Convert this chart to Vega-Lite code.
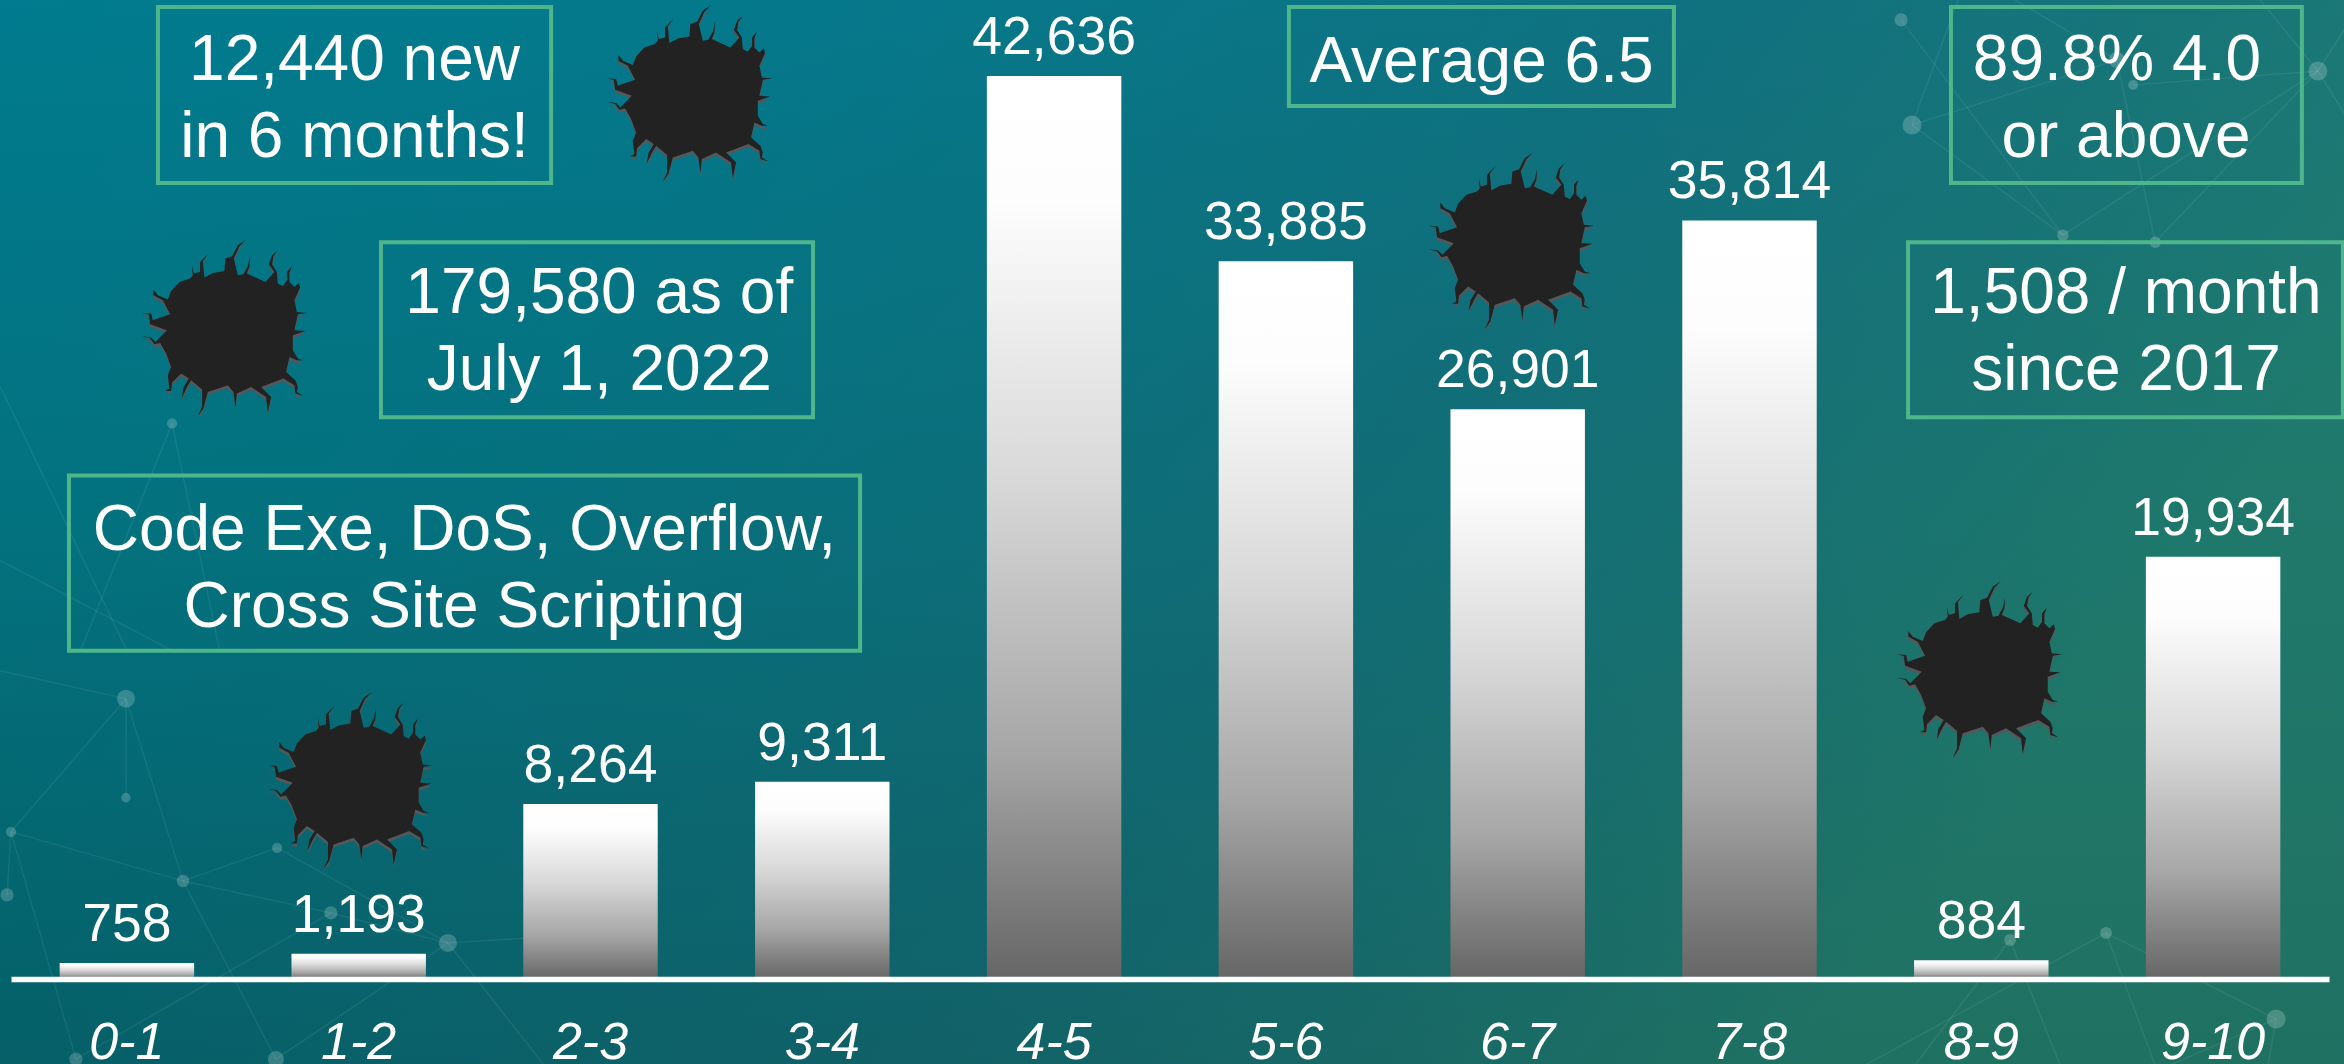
{
"$schema":"https://vega.github.io/schema/vega-lite/v6.json",
"width":2344,"height":979,"padding":{"left":0,"top":0,"right":0,"bottom":85},"autosize":{"type":"none"},
"background":"#006a75",
"config":{"view":{"stroke":null},"text":{"font":"Liberation Sans"},"axis":{"labelFont":"Liberation Sans"}},
"datasets":{
"bars":[{"score":"0-1","count":758},{"score":"1-2","count":1193},{"score":"2-3","count":8264},{"score":"3-4","count":9311},{"score":"4-5","count":42636},{"score":"5-6","count":33885},{"score":"6-7","count":26901},{"score":"7-8","count":35814},{"score":"8-9","count":884},{"score":"9-10","count":19934}],
"boxes":[
{"x0":0.634,"x1":2.33,"y0":45897,"y1":37578},
{"x0":1.596,"x1":3.46,"y0":34789,"y1":26517},
{"x0":0.25,"x1":3.663,"y0":23776,"y1":15504},
{"x0":5.513,"x1":7.174,"y0":45897,"y1":41218},
{"x0":8.369,"x1":9.883,"y0":45897,"y1":37578},
{"x0":8.184,"x1":10.06,"y0":34789,"y1":26517}],
"notes":[
{"text":"12,440 new\nin 6 months!","xc":1.482,"base":42447},
{"text":"179,580 as of\nJuly 1, 2022","xc":2.538,"base":31433},
{"text":"Code Exe, DoS, Overflow,\nCross Site Scripting","xc":1.956,"base":20278},
{"text":"Average 6.5","xc":6.344,"base":42352},
{"text":"89.8% 4.0","xc":9.085,"base":42447},
{"text":"or above","xc":9.124,"base":38807},
{"text":"1,508 / month\nsince 2017","xc":9.124,"base":31433}],
"holes":[{"s":2.934,"c":41700},{"s":0.928,"c":30630},{"s":1.471,"c":9265},{"s":6.48,"c":34742},{"s":8.499,"c":14511}],
"net":[
{"a":0.496,"b":13235,"a2":0,"b2":6948},{"a":0.496,"b":13235,"a2":0.742,"b2":4632},{"a":0.496,"b":13235,"a2":0.496,"b2":8556},{"a":0.496,"b":13235,"a2":-0.047,"b2":14559},
{"a":0,"b":6948,"a2":0.742,"b2":4632},{"a":0,"b":6948,"a2":0.28,"b2":-3781},{"a":0,"b":6948,"a2":-0.017,"b2":3971},{"a":0.742,"b":4632,"a2":1.38,"b2":3120},{"a":1.38,"b":3120,"a2":1.885,"b2":1702},{"a":0.742,"b":4632,"a2":1.143,"b2":-3781},{"a":1.885,"b":1702,"a2":2.714,"b2":2269},{"a":1.885,"b":1702,"a2":1.143,"b2":-3781},{"a":1.148,"b":6192,"a2":1.885,"b2":1702},{"a":1.148,"b":6192,"a2":0.742,"b2":4632},{"a":1.885,"b":1702,"a2":2.3,"b2":-4065},{"a":0.28,"b":-3781,"a2":1.38,"b2":3120},
{"a":0.695,"b":26234,"a2":0.3,"b2":15504},{"a":0.695,"b":26234,"a2":0.9,"b2":15504},{"a":-0.047,"b":19758,"a2":0.695,"b2":15504},{"a":-0.047,"b":28000,"a2":0.5,"b2":15504},
{"a":9.952,"b":42872,"a2":9.155,"b2":42210},{"a":8.201,"b":40320,"a2":9.085,"b2":43392},{"a":8.201,"b":40320,"a2":8.852,"b2":35120},{"a":8.852,"b":35120,"a2":9.952,"b2":42872},{"a":9.25,"b":34789,"a2":9.952,"b2":42872},{"a":9.085,"b":43392,"a2":9.25,"b2":34789},{"a":8.154,"b":45283,"a2":8.852,"b2":35120},{"a":9.952,"b":42872,"a2":10.065,"b2":44810},{"a":9.952,"b":42872,"a2":10.065,"b2":40887},{"a":9.952,"b":42872,"a2":9.703,"b2":46228},{"a":9.085,"b":43392,"a2":8.645,"b2":46228},{"a":8.201,"b":40320,"a2":8.4,"b2":46228},
{"a":8.624,"b":1843,"a2":8.214,"b2":-4065},{"a":8.624,"b":1843,"a2":8.84,"b2":-4065},{"a":9.038,"b":2174,"a2":8.0,"b2":-4065},{"a":9.038,"b":2174,"a2":9.25,"b2":-4065},{"a":9.038,"b":2174,"a2":9.772,"b2":-1891},{"a":9.772,"b":-1891,"a2":9.737,"b2":-4065},{"a":9.772,"b":-1891,"a2":9.314,"b2":-4065}],
"nodes":[{"a":0.496,"b":13235,"r":380},{"a":0,"b":6948,"r":120},{"a":0.742,"b":4632,"r":180},{"a":0.496,"b":8556,"r":100},{"a":1.885,"b":1702,"r":380},{"a":-0.017,"b":3971,"r":200},{"a":1.38,"b":3120,"r":200},{"a":1.143,"b":-3781,"r":300},{"a":0.28,"b":-3781,"r":200},{"a":1.148,"b":6192,"r":120},{"a":0.695,"b":26234,"r":120},{"a":2.714,"b":2269,"r":120},
{"a":9.952,"b":42872,"r":420},{"a":8.201,"b":40320,"r":420},{"a":8.852,"b":35120,"r":150},{"a":9.25,"b":34789,"r":150},{"a":9.085,"b":43392,"r":300},{"a":8.154,"b":45283,"r":200},{"a":9.155,"b":42210,"r":110},{"a":8.624,"b":1843,"r":160},{"a":9.038,"b":2174,"r":160},{"a":9.772,"b":-1891,"r":420}]
},
"layer":[
{"data":{"values":[{"a":-0.05,"a2":10.07,"b":-4100,"b2":46300}]},
 "mark":{"type":"rect","fill":{"gradient":"linear","x1":0,"y1":0,"x2":0,"y2":1,"stops":[{"offset":0,"color":"#007b8f"},{"offset":0.5,"color":"#00727f"},{"offset":1,"color":"#005f67"}]}},
 "encoding":{"x":{"field":"a","type":"quantitative","scale":{"domain":[0,10],"range":[11,2329],"nice":false,"zero":false},"axis":null},"x2":{"field":"a2"},"y":{"field":"b","type":"quantitative","scale":{"domain":[0,46223],"nice":false,"zero":false},"axis":null},"y2":{"field":"b2"}}},
{"data":{"values":[{"a":-0.05,"a2":10.07,"b":-4100,"b2":46300}]},
 "mark":{"type":"rect","fill":{"gradient":"linear","x1":0,"y1":0,"x2":1,"y2":0.35,"stops":[{"offset":0,"color":"rgba(50,120,110,0)"},{"offset":0.3,"color":"rgba(40,100,110,0.1)"},{"offset":0.65,"color":"rgba(40,100,105,0.4)"},{"offset":1,"color":"rgba(50,125,95,0.62)"}]}},
 "encoding":{"x":{"field":"a","type":"quantitative","scale":{"domain":[0,10],"range":[11,2329],"nice":false,"zero":false},"axis":null},"x2":{"field":"a2"},"y":{"field":"b","type":"quantitative","axis":null},"y2":{"field":"b2"}}},
{"data":{"name":"net"},"mark":{"type":"rule","color":"#ffffff","opacity":0.07,"strokeWidth":1.5},
 "encoding":{"x":{"field":"a","type":"quantitative","scale":{"domain":[0,10],"range":[11,2329],"nice":false,"zero":false},"axis":null},"x2":{"field":"a2"},"y":{"field":"b","type":"quantitative","axis":null},"y2":{"field":"b2"}}},
{"data":{"name":"nodes"},"mark":{"type":"point","filled":true,"color":"#ffffff","opacity":0.2,"strokeWidth":0},
 "encoding":{"x":{"field":"a","type":"quantitative","scale":{"domain":[0,10],"range":[11,2329],"nice":false,"zero":false},"axis":null},"y":{"field":"b","type":"quantitative","axis":null},"size":{"field":"r","type":"quantitative","scale":{"type":"identity"},"legend":null}}},
{"data":{"name":"bars"},
 "mark":{"type":"bar","fill":{"gradient":"linear","x1":0,"y1":0,"x2":0,"y2":1,"stops":[{"offset":0,"color":"#ffffff"},{"offset":0.14,"color":"#fdfdfd"},{"offset":0.45,"color":"#d8d8d8"},{"offset":0.75,"color":"#a6a6a6"},{"offset":1,"color":"#666666"}]}},
 "encoding":{"x":{"field":"score","type":"nominal","sort":null,"scale":{"range":[11,2329],"paddingInner":0.42,"paddingOuter":0.21},
   "axis":{"title":null,"ticks":false,"grid":false,"domainColor":"#ffffff","domainWidth":5.5,"labelColor":"#ffffff","labelFontSize":52,"labelFontStyle":"italic","labelAngle":0,"labelPadding":79,"labelBaseline":"alphabetic","labelOverlap":false,"labelBound":false,"labelFlush":false,"zindex":1}},
  "y":{"field":"count","type":"quantitative","axis":null}}},
{"data":{"name":"bars"},
 "mark":{"type":"text","color":"#ffffff","fontSize":53.5,"baseline":"alphabetic","align":"center","dy":-22},
 "encoding":{"x":{"field":"score","type":"nominal","sort":null,"scale":{"range":[11,2329],"paddingInner":0.42,"paddingOuter":0.21},"axis":null},
  "y":{"field":"count","type":"quantitative","axis":null},"text":{"field":"count","type":"quantitative","format":","}}},
{"data":{"name":"holes"},"mark":{"type":"point","filled":true,"color":"#55585b","opacity":1,"strokeWidth":0,"size":4,"yOffset":3,"shape":"M-33.3,-55L-34.3,-65L-32.3,-56.7L-26,-58.3L-26,-68.3L-17.3,-77.3L-23.3,-69.3L-21.7,-52.7L-13.3,-57.3L-1.7,-59.3L-.7,-71.7L6,-74L11.7,-85L20,-90.7L13.3,-84L7.7,-71.7L11.7,-55L17.3,-56L21.7,-64L24,-74L23.3,-63.3L20.7,-56.7L39.3,-48.3L48.3,-58.3L42.7,-65.7L46,-75L51.7,-80L47.3,-74L46,-65.7L50.7,-58.3L51.7,-46.7L56.7,-44L61,-50L61,-58.3L65.7,-64L63.3,-57.3L63.3,-48.3L68.3,-43.3L72.7,-47.3L74,-42.7L68.3,-30L70.7,-18.3L81,-17.3L71.7,-16L68.3,0L79.3,.7L66.7,5L66.7,20L71.7,28.3L77.3,30L70.7,30L63.3,26.7L60,41.7L69.3,50L71.7,56.7L70.7,61.7L77.3,65.7L69.3,63.3L68.3,55L57.3,48.3L35,56.7L45,66.7L41.7,82.3L40,66.7L25,56.7L10.7,63.3L9.3,77.3L7.3,61.7L1.7,55L-18.3,61.7L-22.7,78.3L-28.3,86L-24,76.7L-24,59.3L-35,50L-39.3,57.3L-44.3,67.7L-42.7,57.3L-37.3,48.3L-45,43.3L-54,52.3L-55,60.7L-61,60.7L-56.7,58.3L-58.3,45L-55,36.7L-60,23.3L-66,12.7L-71.7,14L-76,8.3L-84,6L-75,7.3L-70.7,11.7L-59.3,0L-76,-6L-77.3,-15.7L-84,-17.3L-75,-16.7L-73.3,-10L-56,-16L-63.3,-30L-72.7,-35L-72.7,-40.7L-68.3,-35L-58.3,-30.7L-55,-39.3L-46.7,-48.3L-36,-51.7Z"},
 "encoding":{"x":{"field":"s","type":"quantitative","scale":{"domain":[0,10],"range":[11,2329],"nice":false,"zero":false},"axis":null},"y":{"field":"c","type":"quantitative","axis":null}}},
{"data":{"name":"holes"},"mark":{"type":"point","filled":true,"color":"#222222","opacity":1,"strokeWidth":0,"size":4,"shape":"M-33.3,-55L-34.3,-65L-32.3,-56.7L-26,-58.3L-26,-68.3L-17.3,-77.3L-23.3,-69.3L-21.7,-52.7L-13.3,-57.3L-1.7,-59.3L-.7,-71.7L6,-74L11.7,-85L20,-90.7L13.3,-84L7.7,-71.7L11.7,-55L17.3,-56L21.7,-64L24,-74L23.3,-63.3L20.7,-56.7L39.3,-48.3L48.3,-58.3L42.7,-65.7L46,-75L51.7,-80L47.3,-74L46,-65.7L50.7,-58.3L51.7,-46.7L56.7,-44L61,-50L61,-58.3L65.7,-64L63.3,-57.3L63.3,-48.3L68.3,-43.3L72.7,-47.3L74,-42.7L68.3,-30L70.7,-18.3L81,-17.3L71.7,-16L68.3,0L79.3,.7L66.7,5L66.7,20L71.7,28.3L77.3,30L70.7,30L63.3,26.7L60,41.7L69.3,50L71.7,56.7L70.7,61.7L77.3,65.7L69.3,63.3L68.3,55L57.3,48.3L35,56.7L45,66.7L41.7,82.3L40,66.7L25,56.7L10.7,63.3L9.3,77.3L7.3,61.7L1.7,55L-18.3,61.7L-22.7,78.3L-28.3,86L-24,76.7L-24,59.3L-35,50L-39.3,57.3L-44.3,67.7L-42.7,57.3L-37.3,48.3L-45,43.3L-54,52.3L-55,60.7L-61,60.7L-56.7,58.3L-58.3,45L-55,36.7L-60,23.3L-66,12.7L-71.7,14L-76,8.3L-84,6L-75,7.3L-70.7,11.7L-59.3,0L-76,-6L-77.3,-15.7L-84,-17.3L-75,-16.7L-73.3,-10L-56,-16L-63.3,-30L-72.7,-35L-72.7,-40.7L-68.3,-35L-58.3,-30.7L-55,-39.3L-46.7,-48.3L-36,-51.7Z"},
 "encoding":{"x":{"field":"s","type":"quantitative","scale":{"domain":[0,10],"range":[11,2329],"nice":false,"zero":false},"axis":null},"y":{"field":"c","type":"quantitative","axis":null}}},
{"data":{"name":"boxes"},"mark":{"type":"rect","fillOpacity":0,"stroke":"#4fb68c","strokeWidth":4},
 "encoding":{"x":{"field":"x0","type":"quantitative","scale":{"domain":[0,10],"range":[11,2329],"nice":false,"zero":false},"axis":null},"x2":{"field":"x1"},"y":{"field":"y0","type":"quantitative","axis":null},"y2":{"field":"y1"}}},
{"data":{"name":"notes"},"mark":{"type":"text","color":"#ffffff","fontSize":64,"lineHeight":77,"lineBreak":"\n","baseline":"alphabetic","align":"center"},
 "encoding":{"x":{"field":"xc","type":"quantitative","scale":{"domain":[0,10],"range":[11,2329],"nice":false,"zero":false},"axis":null},"y":{"field":"base","type":"quantitative","axis":null},"text":{"field":"text"}}}
],
"resolve":{"scale":{"x":"independent","size":"independent"}}
}
